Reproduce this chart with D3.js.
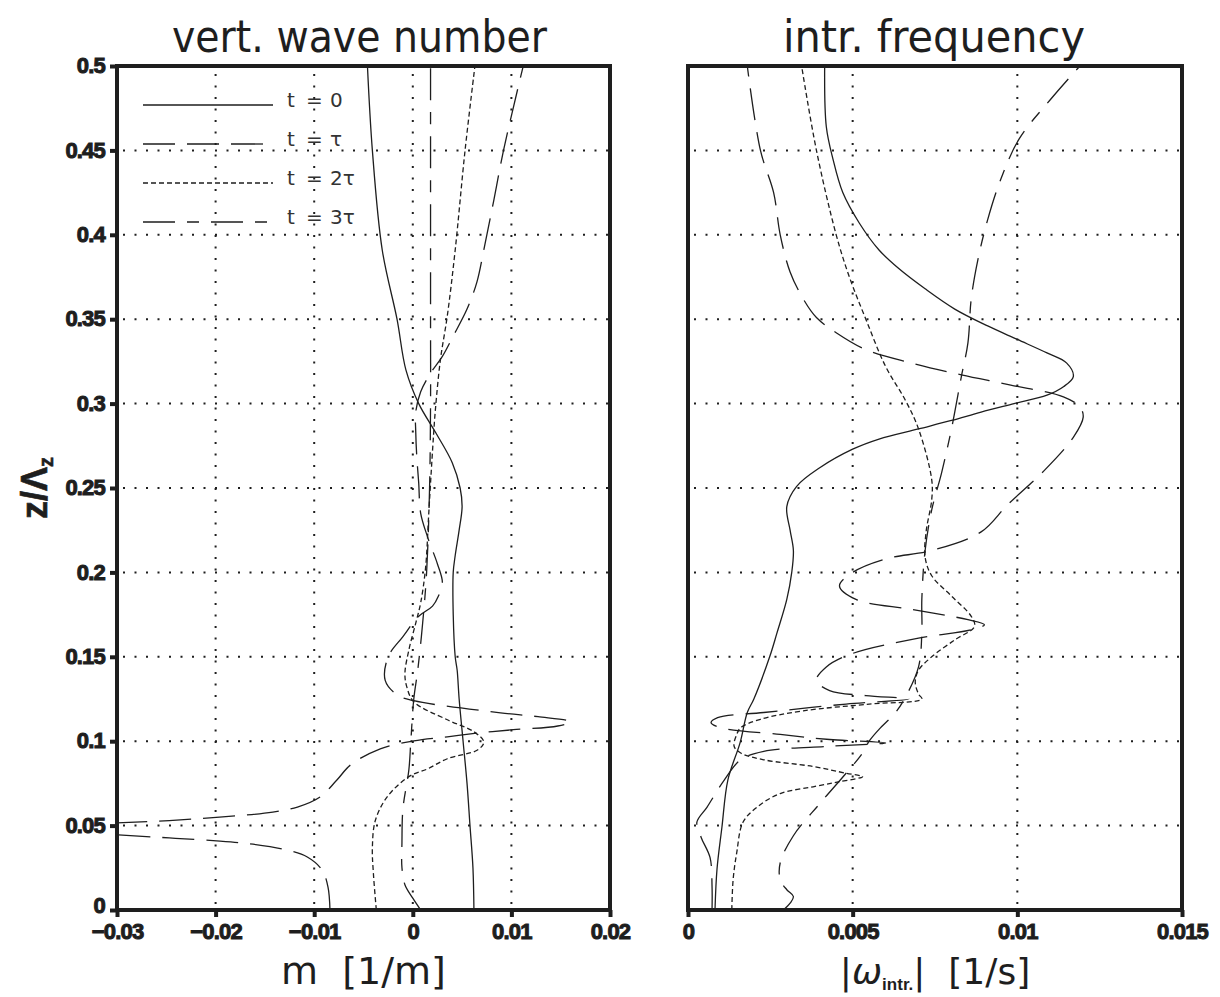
<!DOCTYPE html>
<html><head><meta charset="utf-8">
<script src="https://cdn.jsdelivr.net/npm/d3@7"></script>
<style>body{margin:0;background:#fff}</style>
</head><body>
<svg id="chart" width="1220" height="997" xmlns="http://www.w3.org/2000/svg"></svg>
<script>
// ---------- data ----------
const zTicks = [0, 0.05, 0.1, 0.15, 0.2, 0.25, 0.3, 0.35, 0.4, 0.45, 0.5];
const zTickLabels = ["0", "0.05", "0.1", "0.15", "0.2", "0.25", "0.3", "0.35", "0.4", "0.45", "0.5"];
const mTicks = [-0.03, -0.02, -0.01, 0, 0.01, 0.02];
const mTickLabels = ["\u22120.03", "\u22120.02", "\u22120.01", "0", "0.01", "0.02"];
const wTicks = [0, 0.005, 0.01, 0.015];
const wTickLabels = ["0", "0.005", "0.01", "0.015"];
const legendTimes = ["0", "\u03c4", "2\u03c4", "3\u03c4"];

// vertical wave number m(z) : [z, m]
const m_t0 = [[0,0.0062],[0.025,0.0061],[0.05,0.0058],[0.075,0.0055],[0.1,0.0051],[0.125,0.0047],[0.142,0.0045],[0.15,0.0043],[0.175,0.0041],[0.2,0.0041],[0.21,0.0043],[0.225,0.0047],[0.239,0.0050],[0.25,0.0048],[0.265,0.0040],[0.283,0.0023],[0.3,0.0006],[0.32,-0.0007],[0.35,-0.0016],[0.391,-0.0031],[0.45,-0.0041],[0.5,-0.0046]];
const m_t1 = [[0,-0.0084],[0.0136,-0.0086],[0.0237,-0.0092],[0.0314,-0.0107],[0.0356,-0.0128],[0.039,-0.0162],[0.041,-0.0199],[0.0427,-0.0247],[0.0445,-0.030],[0.0465,-0.038],[0.048,-0.044],[0.05,-0.037],[0.0516,-0.030],[0.053,-0.0247],[0.055,-0.0196],[0.058,-0.0142],[0.061,-0.0117],[0.067,-0.0094],[0.077,-0.0077],[0.086,-0.0063],[0.0955,-0.0033],[0.1002,0.0001],[0.1026,0.0035],[0.105,0.0069],[0.1068,0.0102],[0.109,0.0147],[0.1115,0.0160],[0.1145,0.0127],[0.1168,0.0089],[0.124,0.0001],[0.1275,-0.0016],[0.136,-0.0028],[0.15,-0.0025],[0.162,-0.001],[0.174,0.0006],[0.18,0.002],[0.186,0.0026],[0.194,0.003],[0.205,0.0025],[0.221,0.0015],[0.235,0.0008],[0.253,0.0006],[0.269,0.0004],[0.283,0.0003],[0.295,0.0003],[0.307,0.0008],[0.318,0.0018],[0.328,0.0030],[0.34,0.0041],[0.356,0.0055],[0.372,0.0065],[0.391,0.0072],[0.42,0.0082],[0.45,0.0092],[0.5,0.0112]];
const m_t2 = [[0,-0.0037],[0.022,-0.004],[0.037,-0.0041],[0.053,-0.0038],[0.067,-0.0026],[0.079,-0.0004],[0.0836,0.0015],[0.0896,0.0035],[0.0949,0.0066],[0.0996,0.0072],[0.1056,0.0062],[0.1127,0.0035],[0.1234,0.0001],[0.132,-0.0006],[0.14,-0.0008],[0.154,-0.0004],[0.17,0.0003],[0.182,0.0008],[0.203,0.0013],[0.233,0.0016],[0.253,0.0018],[0.281,0.0021],[0.297,0.0023],[0.326,0.0028],[0.352,0.0035],[0.391,0.0043],[0.45,0.0053],[0.5,0.0063]];
const m_t3 = [[0,0.0008],[0.007,0.0000],[0.015,-0.0008],[0.025,-0.0011],[0.04,-0.0011],[0.06,-0.001],[0.083,-0.0004],[0.1,-0.0002],[0.125,0.0001],[0.142,0.0005],[0.17,0.001],[0.2,0.0014],[0.25,0.0017],[0.3,0.0018],[0.35,0.0018],[0.4,0.0018],[0.45,0.0018],[0.5,0.0018]];

// intrinsic frequency |omega|(z) : [z, omega]
const w_t0 = [[0,0.00082],[0.024,0.00088],[0.049,0.00103],[0.077,0.00121],[0.099,0.00158],[0.117,0.0018],[0.125,0.0020],[0.15,0.00248],[0.164,0.0027],[0.184,0.0030],[0.2,0.00315],[0.213,0.0032],[0.225,0.0031],[0.239,0.0030],[0.251,0.0033],[0.262,0.0040],[0.273,0.0050],[0.279,0.0058],[0.285,0.0070],[0.29,0.0080],[0.295,0.0089],[0.3,0.0099],[0.305,0.0109],[0.31,0.0114],[0.316,0.0117],[0.324,0.0115],[0.33,0.0109],[0.338,0.0100],[0.346,0.0091],[0.356,0.0081],[0.368,0.0072],[0.38,0.0064],[0.391,0.0058],[0.407,0.0052],[0.425,0.0047],[0.445,0.0044],[0.464,0.0042],[0.5,0.00415]];
const w_t1 = [[0,0.00073],[0.014,0.00073],[0.031,0.00067],[0.043,0.0004],[0.052,0.00027],[0.061,0.00058],[0.077,0.0011],[0.089,0.0016],[0.094,0.0023],[0.097,0.0043],[0.099,0.0060],[0.101,0.0043],[0.104,0.0028],[0.108,0.0010],[0.111,0.0007],[0.114,0.0009],[0.117,0.0023],[0.122,0.0048],[0.125,0.0067],[0.127,0.0054],[0.13,0.0043],[0.136,0.0039],[0.144,0.0042],[0.152,0.0050],[0.161,0.0070],[0.166,0.0086],[0.169,0.0090],[0.172,0.0085],[0.178,0.0068],[0.184,0.0051],[0.192,0.0046],[0.2,0.0050],[0.208,0.0060],[0.213,0.0074],[0.224,0.0089],[0.24,0.0097],[0.26,0.0108],[0.28,0.0117],[0.292,0.0120],[0.298,0.0119],[0.304,0.0114],[0.311,0.0098],[0.317,0.0083],[0.324,0.0068],[0.332,0.0054],[0.342,0.0045],[0.351,0.0039],[0.362,0.0035],[0.378,0.0031],[0.4,0.0028],[0.425,0.0026],[0.45,0.0022],[0.5,0.0018]];
const w_t2 = [[0,0.00133],[0.018,0.00137],[0.034,0.00148],[0.052,0.00167],[0.061,0.0021],[0.069,0.0028],[0.073,0.0038],[0.076,0.0046],[0.079,0.0053],[0.081,0.0048],[0.085,0.0038],[0.089,0.0023],[0.093,0.0016],[0.097,0.0014],[0.104,0.00148],[0.108,0.0016],[0.113,0.0022],[0.118,0.0035],[0.122,0.0055],[0.125,0.0071],[0.128,0.0070],[0.135,0.0069],[0.142,0.0070],[0.15,0.0074],[0.16,0.0081],[0.168,0.0087],[0.174,0.0086],[0.186,0.0080],[0.198,0.0074],[0.209,0.0072],[0.224,0.00723],[0.243,0.0074],[0.255,0.0074],[0.285,0.0070],[0.302,0.0066],[0.322,0.0060],[0.35,0.0054],[0.375,0.0049],[0.4,0.0045],[0.45,0.0039],[0.5,0.00345]];
const w_t3 = [[0,0.0029],[0.004,0.0031],[0.008,0.0032],[0.012,0.0030],[0.018,0.0028],[0.028,0.0028],[0.044,0.0032],[0.063,0.0040],[0.081,0.0048],[0.093,0.0053],[0.1,0.0055],[0.107,0.0058],[0.117,0.0063],[0.126,0.0066],[0.144,0.0070],[0.164,0.0071],[0.184,0.0071],[0.213,0.0072],[0.237,0.0074],[0.259,0.0077],[0.285,0.0080],[0.316,0.0083],[0.336,0.0085],[0.362,0.0086],[0.385,0.0088],[0.409,0.0091],[0.433,0.0095],[0.457,0.01006],[0.48,0.0110],[0.5,0.0119]];

// ---------- drawing ----------
const svg = d3.select("#chart");
const ink = "#1e1e1e";
const dashes = [null, "32,12", "5,3", "32,12,12,12"];
const yTop = 66, yBottom = 910;
const y = d3.scaleLinear().domain([0, 0.5]).range([yBottom, yTop]);
const tickFont = "'Liberation Sans', Arial, sans-serif";

const panels = [
  {id: "L", x: d3.scaleLinear().domain([-0.03, 0.02]).range([117, 610]), ticks: mTicks, labels: mTickLabels,
   series: [m_t0, m_t1, m_t2, m_t3], ylabels: true},
  {id: "R", x: d3.scaleLinear().domain([0, 0.015]).range([688, 1182]), ticks: wTicks, labels: wTickLabels,
   series: [w_t0, w_t1, w_t2, w_t3], ylabels: false}
];

const defs = svg.append("defs");

panels.forEach(p => {
  const [x0, x1] = p.x.range();
  const g = svg.append("g");
  defs.append("clipPath").attr("id", "clip" + p.id)
    .append("rect").attr("x", x0).attr("y", yTop).attr("width", x1 - x0).attr("height", yBottom - yTop);

  // grid
  const grid = g.append("g").attr("stroke", ink).attr("stroke-width", 2).attr("stroke-dasharray", "2,9.5");
  p.ticks.slice(1, -1).forEach(t => {
    grid.append("line").attr("x1", p.x(t)).attr("x2", p.x(t)).attr("y1", yBottom - 6).attr("y2", yTop + 4);
  });
  zTicks.slice(1, -1).forEach(t => {
    grid.append("line").attr("x1", x0 + 6).attr("x2", x1).attr("y1", y(t)).attr("y2", y(t));
  });

  // curves
  const line = d3.line().x(d => p.x(d[1])).y(d => y(d[0])).curve(d3.curveCatmullRom.alpha(0.5));
  const cg = g.append("g").attr("clip-path", `url(#clip${p.id})`);
  p.series.forEach((s, i) => {
    cg.append("path").attr("d", line(s)).attr("fill", "none").attr("stroke", ink)
      .attr("stroke-width", 1.3).attr("stroke-dasharray", dashes[i]);
  });

  // x axis
  const xAxis = d3.axisBottom(p.x).tickValues(p.ticks).tickFormat((d, i) => p.labels[i]).tickSize(7).tickPadding(6);
  const xa = g.append("g").attr("transform", `translate(0,${yBottom})`).call(xAxis);
  xa.select(".domain").remove();
  xa.selectAll(".tick line").attr("stroke", ink).attr("stroke-width", 4);
  xa.selectAll(".tick text").attr("fill", ink).attr("stroke", ink).attr("stroke-width", 1)
    .style("font-family", tickFont).style("font-weight", "bold").style("font-size", "22px")
    .attr("letter-spacing", "-0.8");

  // y axis
  const yAxis = d3.axisLeft(y).tickValues(zTicks).tickFormat((d, i) => p.ylabels ? zTickLabels[i] : "").tickSize(p.ylabels ? 7 : 0).tickPadding(5);
  const ya = g.append("g").attr("transform", `translate(${x0},0)`).call(yAxis);
  ya.select(".domain").remove();
  ya.selectAll(".tick line").attr("stroke", ink).attr("stroke-width", 4);
  ya.selectAll(".tick text").attr("fill", ink).attr("stroke", ink).attr("stroke-width", 1)
    .style("font-family", tickFont).style("font-weight", "bold").style("font-size", "22px")
    .attr("letter-spacing", "-0.8").attr("dy", (d, i) => i === 0 ? "0.1em" : "0.3em");

  // frame
  g.append("rect").attr("x", x0).attr("y", yTop).attr("width", x1 - x0).attr("height", yBottom - yTop)
    .attr("fill", "none").attr("stroke", ink).attr("stroke-width", 4);
});

// legend
legendTimes.forEach((t, i) => {
  const ly = 105 + i * 39;
  svg.append("line").attr("x1", 143).attr("x2", 273).attr("y1", ly).attr("y2", ly)
    .attr("stroke", ink).attr("stroke-width", 1.3).attr("stroke-dasharray", dashes[i]);
  const tx = svg.append("text").attr("y", ly + 2).attr("fill", "#333")
    .style("font-family", "'DejaVu Sans', sans-serif").style("font-size", "20px");
  tx.append("tspan").attr("x", 287).text("t");
  tx.append("tspan").attr("x", 306).text("=");
  tx.append("tspan").attr("x", 330).text(t);
});

// titles
const titleFont = "'DejaVu Sans', sans-serif";
svg.append("text").attr("x", 172).attr("y", 52).attr("textLength", 375).attr("lengthAdjust", "spacingAndGlyphs")
  .attr("fill", ink).style("font-family", titleFont).style("font-size", "44px").text("vert. wave number");
svg.append("text").attr("x", 783).attr("y", 52).attr("textLength", 302).attr("lengthAdjust", "spacingAndGlyphs")
  .attr("fill", ink).style("font-family", titleFont).style("font-size", "44px").text("intr. frequency");

// x-axis titles
svg.append("text").attr("x", 363.5).attr("y", 984).attr("text-anchor", "middle").attr("fill", ink)
  .style("font-family", titleFont).style("font-size", "38px").style("white-space", "pre").text("m  [1/m]");
const wt = svg.append("text").attr("x", 935).attr("y", 984).attr("text-anchor", "middle").attr("fill", ink)
  .style("font-family", titleFont).style("font-size", "36px").style("white-space", "pre");
wt.append("tspan").text("|");
wt.append("tspan").style("font-style", "italic").text("\u03c9");
wt.append("tspan").attr("dy", 6).style("font-size", "17px").style("font-weight", "bold")
  .style("font-family", tickFont).text("intr.");
wt.append("tspan").attr("dy", -6).text("|  [1/s]");

// y-axis title
const yt = svg.append("text").attr("transform", "translate(47,488) rotate(-90)").attr("text-anchor", "middle")
  .attr("fill", ink).attr("stroke", ink).attr("stroke-width", 0.6)
  .style("font-family", tickFont).style("font-weight", "bold").style("font-size", "36px");
yt.append("tspan").text("z/\u039b");
yt.append("tspan").attr("dy", 6).style("font-size", "20px").text("z");
</script>
</body></html>
